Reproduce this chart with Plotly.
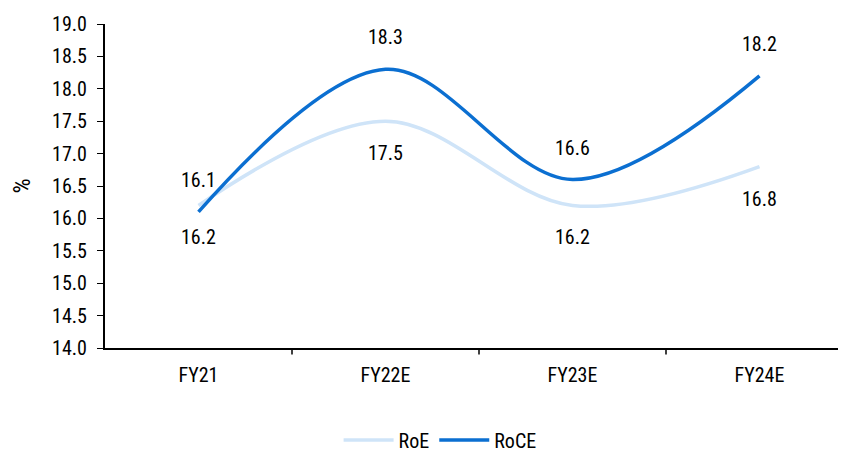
import plotly.graph_objects as go

categories = ["FY21", "FY22E", "FY23E", "FY24E"]
roe = [16.2, 17.5, 16.2, 16.8]
roce = [16.1, 18.3, 16.6, 18.2]
y_ticks = [14.0, 14.5, 15.0, 15.5, 16.0, 16.5, 17.0, 17.5, 18.0, 18.5, 19.0]

FONT = "Liberation Sans Narrow, Roboto Condensed, Roboto, sans-serif"
SIZE = 20
TEXT = "#000000"
roe_color = "#cfe4f8"
roce_color = "#0b6fd1"

fig = go.Figure()
fig.add_trace(go.Scatter(x=categories, y=roe, mode="lines", name="RoE",
                         line=dict(color=roe_color, width=3.5, shape="spline", smoothing=1.0)))
fig.add_trace(go.Scatter(x=categories, y=roce, mode="lines", name="RoCE",
                         line=dict(color=roce_color, width=3.5, shape="spline", smoothing=1.0)))

annotations = []
for c, v in zip(categories, roe):
    annotations.append(dict(x=c, y=v, text=f"{v:.1f}", showarrow=False, yshift=-32,
                            font=dict(family=FONT, size=SIZE, color=TEXT)))
for c, v in zip(categories, roce):
    annotations.append(dict(x=c, y=v, text=f"{v:.1f}", showarrow=False, yshift=32,
                            font=dict(family=FONT, size=SIZE, color=TEXT)))

fig.update_layout(
    width=846, height=452,
    margin=dict(l=97, r=1, t=16, b=112, autoexpand=False),
    plot_bgcolor="white", paper_bgcolor="white",
    font=dict(family=FONT, size=SIZE, color=TEXT),
    showlegend=True,
    legend=dict(orientation="h", x=0.448, xanchor="center", y=-0.284, yanchor="middle",
                font=dict(family=FONT, size=SIZE, color=TEXT), itemwidth=50),
    annotations=annotations,
    xaxis=dict(range=[-0.5, 3.5], showline=True, linecolor="black", linewidth=2,
               ticks="", showgrid=False, automargin=False, ticklabelstandoff=8,
               tickfont=dict(family=FONT, size=SIZE, color=TEXT)),
    yaxis=dict(range=[14, 19], tickvals=y_ticks, ticktext=[f"{t:.1f}" for t in y_ticks],
               showline=True, linecolor="black", linewidth=2, ticks="outside",
               ticklen=6, tickcolor="black", showgrid=False, zeroline=False, automargin=False,
               ticklabelstandoff=6,
               title=dict(text="%", standoff=31, font=dict(color=TEXT)),
               tickfont=dict(family=FONT, size=SIZE, color=TEXT)),
)

# category boundary tick marks on x axis
for i in range(1, 5):
    fig.add_shape(type="line", xref="x", yref="paper", x0=i - 0.5, x1=i - 0.5,
                  y0=0, y1=-0.02, line=dict(color="black", width=1.5))

fig.write_html("out.html")
